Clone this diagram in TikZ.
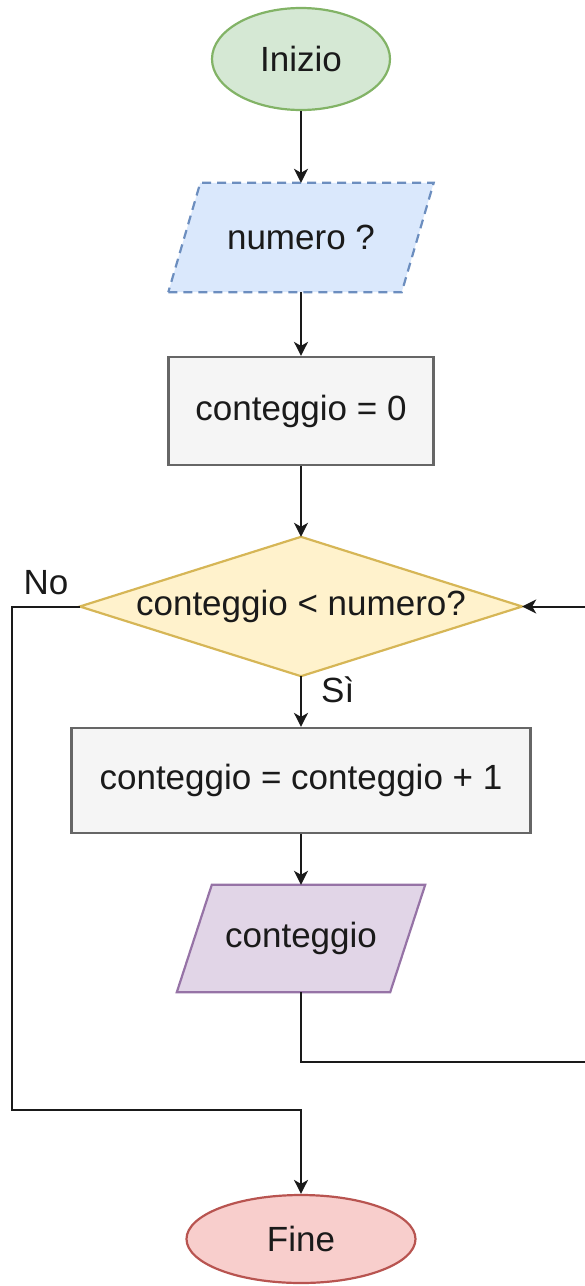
\documentclass[tikz,border=0pt]{standalone}
\usepackage{fontspec}
\setmainfont{Liberation Sans}
\usetikzlibrary{shapes.geometric,arrows.meta,backgrounds}
\definecolor{gfill}{HTML}{D5E8D4}\definecolor{gstroke}{HTML}{82B366}
\definecolor{bfill}{HTML}{DAE8FC}\definecolor{bstroke}{HTML}{6C8EBF}
\definecolor{pfill}{HTML}{F5F5F5}\definecolor{pstroke}{HTML}{666666}
\definecolor{yfill}{HTML}{FFF2CC}\definecolor{ystroke}{HTML}{D6B656}
\definecolor{vfill}{HTML}{E1D5E7}\definecolor{vstroke}{HTML}{9673A6}
\definecolor{rfill}{HTML}{F8CECC}\definecolor{rstroke}{HTML}{B85450}
\definecolor{ink}{HTML}{1A1A1A}
\begin{document}
\begin{tikzpicture}[x=1pt,y=-1pt,
  font=\fontsize{35}{42}\selectfont, text=ink,
  term/.style={ellipse, line width=2.2pt, inner sep=0pt},
  procbox/.style={rectangle, draw=pstroke, fill=pfill, line width=2.2pt, inner sep=0pt},
  holder/.style={rectangle, inner sep=0pt},
  shapeline/.style={line width=2.2pt, line join=miter},
  edge/.style={line width=2pt, draw=ink, -{Stealth[length=14pt,width=14pt,inset=4pt]}},
  lbl/.style={inner sep=0pt}]
\useasboundingbox (0,0) rectangle (585,1286);

\node[term, draw=gstroke, fill=gfill, minimum width=178, minimum height=102] (start) at (301,59) {Inizio};

\node[holder, minimum width=233, minimum height=109] (num) at (301,237.5) {numero ?};
\node[procbox, minimum width=265, minimum height=108] (init) at (301,411) {conteggio = 0};
\node[holder, minimum width=442, minimum height=139] (cond) at (301,606.5) {conteggio < numero?};
\node[procbox, minimum width=459, minimum height=105] (inc) at (301,780.5) {conteggio = conteggio + 1};
\node[holder, minimum width=213, minimum height=107] (out) at (301,938.5) {conteggio};
\node[term, draw=rstroke, fill=rfill, minimum width=229, minimum height=88] (fine) at (301,1239) {Fine};

\begin{scope}[on background layer]
\filldraw[shapeline, fill=bfill, draw=bstroke, dash pattern=on 9pt off 6pt]
  ([xshift=-16pt]num.south west) -- ([xshift=-16pt]num.south east)
  -- ([xshift=16pt]num.north east) -- ([xshift=16pt]num.north west) -- cycle;
\filldraw[shapeline, fill=yfill, draw=ystroke]
  (cond.north) -- (cond.east) -- (cond.south) -- (cond.west) -- cycle;
\filldraw[shapeline, fill=vfill, draw=vstroke]
  ([xshift=-17.5pt]out.south west) -- ([xshift=-17.5pt]out.south east)
  -- ([xshift=17.5pt]out.north east) -- ([xshift=17.5pt]out.north west) -- cycle;
\end{scope}

\coordinate (r1) at (594,1062);
\coordinate (l1) at (12,1110);

\draw[edge] (start) -- (num);
\draw[edge] (num) -- (init);
\draw[edge] (init) -- (cond);
\draw[edge] (cond) -- (inc);
\draw[edge] (inc) -- (out);
\draw[edge] (out.south) |- (r1) |- (cond.east);
\draw[edge] (cond.west) -| (l1) -| (fine.north);

\node[lbl] (no) at (46,583) {No};
\node[lbl, anchor=west] (si) at (321,690) {Sì};
\end{tikzpicture}
\end{document}
